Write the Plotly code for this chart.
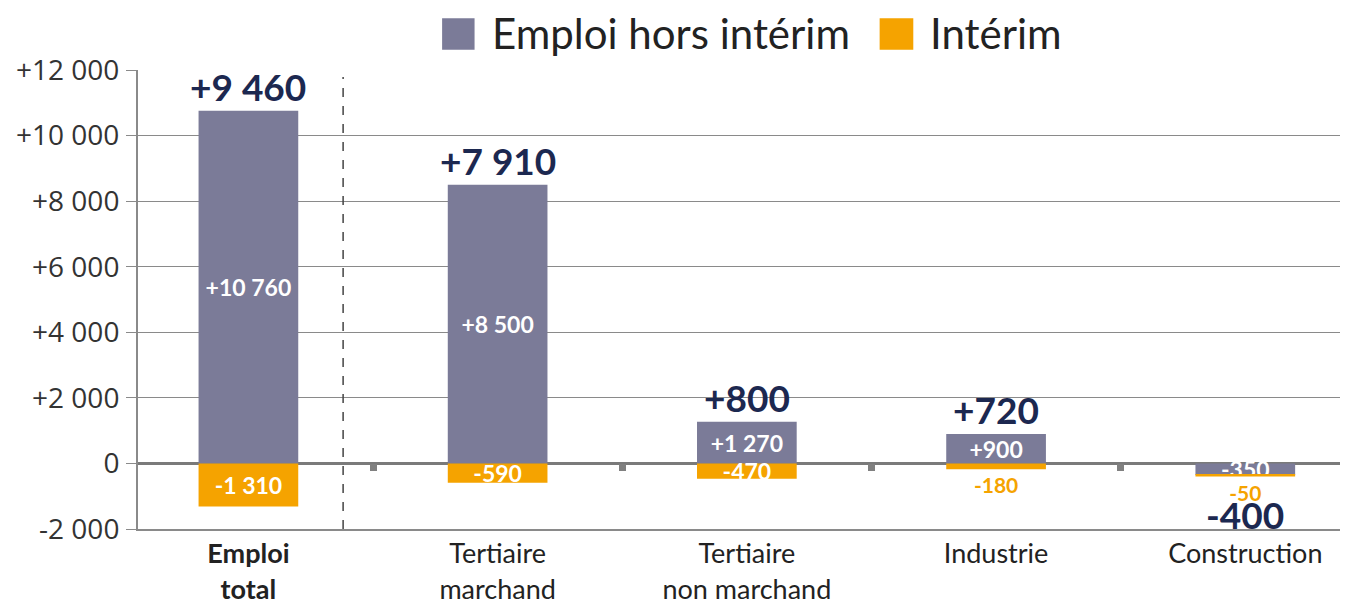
import plotly.graph_objects as go

categories = ["<b>Emploi</b><br><b>total</b>", "Tertiaire<br>marchand", "Tertiaire<br>non marchand", "Industrie", "Construction"]
emploi_hors_interim = [10760, 8500, 1270, 900, -350]
interim = [-1310, -590, -470, -180, -50]
totals = [9460, 7910, 800, 720, -400]
interim_textpos = ["inside", "inside", "inside", "outside", "outside"]
y_ticks = [-2000, 0, 2000, 4000, 6000, 8000, 10000, 12000]

GRAY = "#7b7b98"
ORANGE = "#f5a300"
NAVY = "#1c2850"
AXIS = "#8a8a8a"
FONT = "Lato"
XR = [-0.443, 4.38]


def fmt(v):
    if v == 0:
        return "0"
    s = f"{abs(v):,}".replace(",", " ")
    return ("+" if v > 0 else "-") + s


fig = go.Figure()
fig.add_trace(go.Bar(
    x=categories, y=emploi_hors_interim, name="Emploi hors intérim",
    marker=dict(color=GRAY, line=dict(width=0)), width=0.4,
    text=[fmt(v) for v in emploi_hors_interim], textposition="inside",
    insidetextanchor="middle", textangle=0, constraintext="none",
    insidetextfont=dict(color="white", size=23, family=FONT, weight="bold"),
    showlegend=False,
))
fig.add_trace(go.Bar(
    x=categories, y=interim, name="Intérim",
    marker=dict(color=ORANGE, line=dict(width=0)), width=0.4,
    text=[fmt(v) for v in interim], textposition=interim_textpos,
    insidetextanchor="middle", textangle=0, constraintext="none",
    insidetextfont=dict(color="white", size=23, family=FONT, weight="bold"),
    outsidetextfont=dict(color=ORANGE, size=21, family=FONT, weight="bold"),
    showlegend=False, cliponaxis=False,
))
# helper trace for the overlaid tick axis
fig.add_trace(go.Scatter(x=[None], y=[None], xaxis="x2", showlegend=False, hoverinfo="skip"))

annotations = []
for c, g, i, t in zip(categories, emploi_hors_interim, interim, totals):
    pos = max(g, 0) + max(i, 0)
    neg = min(g, 0) + min(i, 0)
    if t >= 0:
        annotations.append(dict(x=c, y=pos, xref="x", yref="y", text=f"<b>{fmt(t)}</b>",
                                showarrow=False, yanchor="bottom", yshift=0,
                                font=dict(size=37, color=NAVY, family=FONT)))
    else:
        annotations.append(dict(x=c, y=neg, xref="x", yref="y", text=f"<b>{fmt(t)}</b>",
                                showarrow=False, yanchor="top", yshift=-13,
                                font=dict(size=37, color=NAVY, family=FONT)))

# manual legend
annotations.append(dict(x=0.293, y=1.08, xref="paper", yref="paper", text="Emploi hors intérim",
                        showarrow=False, xanchor="left", yanchor="middle",
                        font=dict(size=42, color="#222222", family=FONT)))
annotations.append(dict(x=0.657, y=1.08, xref="paper", yref="paper", text="Intérim",
                        showarrow=False, xanchor="left", yanchor="middle",
                        font=dict(size=42, color="#222222", family=FONT)))

shapes = [
    dict(type="rect", xref="paper", yref="paper", x0=0.253, x1=0.280, y0=1.044, y1=1.113,
         fillcolor=GRAY, line=dict(width=0)),
    dict(type="rect", xref="paper", yref="paper", x0=0.617, x1=0.645, y0=1.044, y1=1.113,
         fillcolor=ORANGE, line=dict(width=0)),
    dict(type="line", xref="x", yref="paper", x0=0.38, x1=0.38, y0=0, y1=0.985,
         line=dict(color="#444444", width=1.5, dash="dash")),
]

# the page body adds an 8px margin, so the figure is sized to fit the window
fig.update_layout(
    width=1345, height=593,
    margin=dict(l=130, r=13, t=62, b=72, autoexpand=False),
    paper_bgcolor="white", plot_bgcolor="white",
    barmode="relative", bargap=0.6,
    font=dict(family=FONT, color="#333333"),
    annotations=annotations, shapes=shapes,
    xaxis=dict(type="category", range=XR, showgrid=False, automargin=False,
               showline=True, linecolor=AXIS, linewidth=2, ticks="",
               tickfont=dict(size=27, color="#222222", family=FONT), zeroline=False),
    xaxis2=dict(overlaying="x", anchor="free", position=2000 / 14000, range=XR,
                automargin=False,
                showgrid=False, showline=False, zeroline=False, showticklabels=False,
                tickmode="array", tickvals=[0.5, 1.5, 2.5, 3.5], ticks="outside",
                ticklen=7, tickwidth=7, tickcolor="#808080"),
    yaxis=dict(range=[-2000, 12000], tickmode="array", tickvals=y_ticks, automargin=False,
               ticktext=[fmt(v) for v in y_ticks], showgrid=True, gridcolor=AXIS, gridwidth=1,
               zeroline=True, zerolinecolor="#7a7a7a", zerolinewidth=3,
               showline=True, linecolor=AXIS, linewidth=2, ticks="outside", ticklen=10,
               ticklabelstandoff=1,
               tickcolor=AXIS, tickfont=dict(size=28, color="#333333", family="Open Sans")),
)

fig.write_html("out.html")
